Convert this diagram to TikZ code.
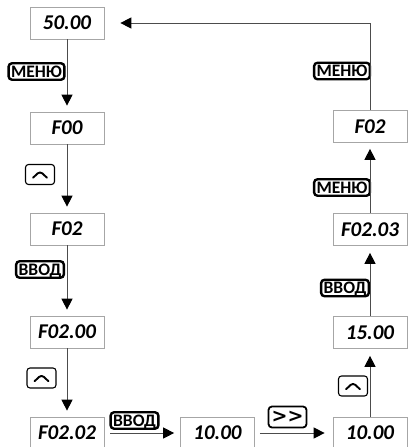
\documentclass[tikz,border=0pt]{standalone}
\usepackage{fontspec}
\setmainfont{Carlito}
\newfontfamily\keysymfont{DejaVu Sans}
\usetikzlibrary{arrows.meta}

\tikzset{
  disp/.style={shape=rectangle,draw=black!35,line width=0.7pt,minimum width=74pt,minimum height=32pt,inner sep=0pt,font=\fontsize{21}{21}\selectfont\bfseries\itshape},
  keyword/.style={shape=rectangle,rounded corners=3.5pt,draw=black,line width=2.4pt,inner xsep=2.5pt,inner ysep=2.5pt,text height=11.5pt,text depth=0pt,font=\fontsize{17.5}{17.5}\selectfont\bfseries},
  keyup/.style={shape=rectangle,rounded corners=3pt,draw=black,line width=1.1pt,minimum width=29pt,minimum height=20pt,inner sep=0pt},
  keyshift/.style={shape=rectangle,rounded corners=3.5pt,draw=black,line width=1.8pt,minimum width=38pt,minimum height=21pt,inner sep=0pt,font=\keysymfont\fontsize{19}{19}\selectfont\bfseries},
  flow/.style={-{Triangle[length=11pt,width=11pt,color=black]},draw=black!70,line width=1pt}
}
\newcommand{\upcaret}{\tikz\draw[line width=1.9pt,line cap=round,line join=round] (0,0) -- (7pt,6.5pt) -- (14pt,0);}

\begin{document}
\begin{tikzpicture}[x=1pt,y=-1pt]
\useasboundingbox (0,0) rectangle (407,447);
\node[disp] (0) at (67,23) {50.00};
\node[disp] (1) at (67,128) {F00};
\node[disp] (2) at (67,229) {F02};
\node[disp] (3) at (67,332) {F02.00};
\node[disp] (4) at (67,433) {F02.02};
\node[disp] (5) at (217.5,433) {10.00};
\node[disp] (6) at (370,433) {10.00};
\node[disp] (7) at (370,332.5) {15.00};
\node[disp] (8) at (370,229.5) {F02.03};
\node[disp] (9) at (370,126.5) {F02};

% key labels
\node[keyword] (k0) at (36.5,71.5) {МЕНЮ};
\node[keyup] (k1) at (40,174.5) {\upcaret};
\node[keyword] (k2) at (40,269.5) {ВВОД};
\node[keyup] (k3) at (41.5,378) {\upcaret};
\node[keyword] (k4) at (134.5,420.5) {ВВОД};
\node[keyshift] (k5) at (287.5,417) {>{}>};
\node[keyup] (k6) at (353,386) {\upcaret};
\node[keyword] (k7) at (345,288) {ВВОД};
\node[keyword] (k8) at (342,187.5) {МЕНЮ};
\node[keyword] (k9) at (342,71) {МЕНЮ};

\path [flow,shorten >=6pt] (0) edge node {} (1);
\path [flow,shorten >=6pt] (1) edge node {} (2);
\path [flow,shorten >=6pt] (2) edge node {} (3);
\path [flow,shorten >=6pt] (3) edge node {} (4);
\path [flow,shorten <=6pt,shorten >=6pt] (4) edge node {} (5);
\path [flow,shorten <=5pt,shorten >=8pt] (5) edge node {} (6);
\path [flow,shorten >=7pt] (6) edge node {} (7);
\path [flow,shorten >=7pt] (7) edge node {} (8);
\path [flow,shorten >=6pt] (8) edge node {} (9);
\draw [flow,shorten >=16pt] (9) |- (0);
\end{tikzpicture}
\end{document}
